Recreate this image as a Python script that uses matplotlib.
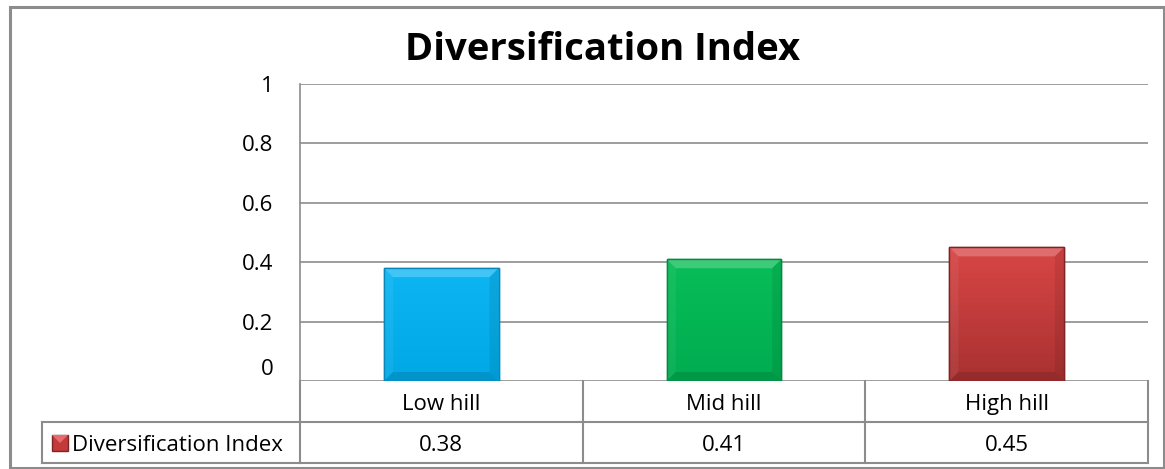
import matplotlib
matplotlib.use("Agg")
import matplotlib.pyplot as plt
import numpy as np
from matplotlib.patches import Rectangle, Polygon
from matplotlib.transforms import blended_transform_factory, ScaledTranslation

categories = ["Low hill", "Mid hill", "High hill"]
values = [0.38, 0.41, 0.45]
series_name = "Diversification Index"
title = "Diversification Index"
yticks = [0, 0.2, 0.4, 0.6, 0.8, 1.0]
ytick_labels = ["0", "0.2", "0.4", "0.6", "0.8", "1"]
colors_top = ["#0DB6F2", "#08BE58", "#D94646"]
colors_bot = ["#00A9E6", "#00AC50", "#A93131"]
edge_colors = ["#0A86B8", "#078840", "#7E2424"]

plt.rcParams['font.family'] = ['Open Sans', 'DejaVu Sans']
FS = 16

W, H = 1165, 469
fig = plt.figure(figsize=(W / 100, H / 100), dpi=100)

def fx(px):
    return px / W

def fy(py):
    return 1 - py / H

left, right, top, bottom = 300, 1148, 84, 381
ax = fig.add_axes([fx(left), fy(bottom), fx(right) - fx(left), fy(top) - fy(bottom)])

ax.set_xlim(-0.5, 2.5)
ax.set_ylim(0, 1)
grid_c = "#8C8C8C"
ax.set_yticks(yticks)
ax.set_yticklabels(ytick_labels, fontsize=FS)
ax.yaxis.grid(True, color=grid_c, lw=1.2)
ax.set_axisbelow(True)
ax.tick_params(axis='y', length=0, pad=19)
ax.set_xticks([])
for s in ["top", "right", "bottom"]:
    ax.spines[s].set_visible(False)
ax.spines["left"].set_color(grid_c)
ax.spines["left"].set_linewidth(1.2)

# shift the "0" label upward like the reference
lbl0 = ax.get_yticklabels()[0]
lbl0.set_transform(lbl0.get_transform() + ScaledTranslation(0, 14 / 100, fig.dpi_scale_trans))

bw = 0.405
x = np.arange(len(categories))
bars = ax.bar(x, values, width=bw, color=colors_top, edgecolor=edge_colors, linewidth=1.0, zorder=3)
bx = 9 / 282 * 1.0
by = 9 / 297 * 1.0
for b, ct, cb, ec in zip(bars, colors_top, colors_bot, edge_colors):
    x0, y0 = b.get_x(), b.get_y()
    w, h = b.get_width(), b.get_height()
    c1 = np.array(matplotlib.colors.to_rgb(ct))
    c2 = np.array(matplotlib.colors.to_rgb(cb))
    t = np.linspace(0, 1, 100)[:, None]
    grad = (c1 * (1 - t) + c2 * t)[:, None, :]
    im = ax.imshow(grad, extent=[x0, x0 + w, y0, y0 + h], aspect='auto', zorder=3.5, origin='upper')
    im.set_clip_path(b)
    x1, y1 = x0 + w, y0 + h
    ax.add_patch(Polygon([[x0, y1], [x1, y1], [x1 - bx, y1 - by], [x0 + bx, y1 - by]],
                         closed=True, facecolor="white", alpha=0.22, lw=0, zorder=3.6))
    ax.add_patch(Polygon([[x0, y1], [x0 + bx, y1 - by], [x0 + bx, y0 + by], [x0, y0]],
                         closed=True, facecolor="white", alpha=0.06, lw=0, zorder=3.6))
    ax.add_patch(Polygon([[x1, y1], [x1 - bx, y1 - by], [x1 - bx, y0 + by], [x1, y0]],
                         closed=True, facecolor="black", alpha=0.08, lw=0, zorder=3.6))
    ax.add_patch(Polygon([[x0, y0], [x0 + bx, y0 + by], [x1 - bx, y0 + by], [x1, y0]],
                         closed=True, facecolor="black", alpha=0.12, lw=0, zorder=3.6))
    ax.add_patch(Rectangle((x0, y0), w, h, fill=False, edgecolor=ec, lw=1.0, zorder=4))
ax.set_xlim(-0.5, 2.5)
ax.set_ylim(0, 1)

# table
trans = blended_transform_factory(ax.transData, fig.transFigure)
ftrans = fig.transFigure
r0, r1, r2 = fy(381), fy(422), fy(463)
tc = "#8C8C8C"
lw = 1.5
ax.plot([-0.5, 2.5], [r1, r1], transform=trans, color=tc, lw=lw, clip_on=False)
ax.plot([2.5, 2.5], [r0, r2], transform=trans, color=tc, lw=lw, clip_on=False)
for xv in [-0.5, 0.5, 1.5]:
    ax.plot([xv, xv], [r0, r2], transform=trans, color=tc, lw=lw, clip_on=False)
tl = fx(42)
fig.add_artist(plt.Line2D([tl, fx(left)], [r1, r1], color=tc, lw=lw))
fig.add_artist(plt.Line2D([tl, tl], [r1, r2], color=tc, lw=lw))
ax.plot([-0.5, 2.5], [r2, r2], transform=trans, color=tc, lw=lw, clip_on=False)
fig.add_artist(plt.Line2D([tl, fx(left)], [r2, r2], color=tc, lw=lw))

for xi, cat, v in zip(x, categories, values):
    ax.text(xi, fy(410), cat, transform=trans, ha='center', va='baseline', fontsize=FS)
    ax.text(xi, fy(451), f"{v:.2f}", transform=trans, ha='center', va='baseline', fontsize=FS)

# legend key
fig.add_artist(Rectangle((fx(52), fy(451)), fx(68) - fx(52), fy(435) - fy(451),
                         facecolor="#C23A3A", edgecolor=edge_colors[2], lw=1.0, transform=ftrans))
fig.add_artist(Polygon([[fx(52), fy(435)], [fx(68), fy(435)], [fx(60), fy(443)]], closed=True,
                       facecolor="#E86A6A", lw=0, transform=ftrans))
fig.text(fx(72), fy(451), series_name, ha='left', va='baseline', fontsize=FS)

# title
fig.text(fx(603), fy(60), title, ha='center', va='baseline', fontsize=27.5, fontweight='bold')

# outer border
fig.add_artist(Rectangle((fx(10), fy(468)), fx(1164) - fx(10), fy(7) - fy(468),
                         fill=False, edgecolor="#8C8C8C", lw=2.2, transform=ftrans))

fig.savefig("out.png", dpi=100)
